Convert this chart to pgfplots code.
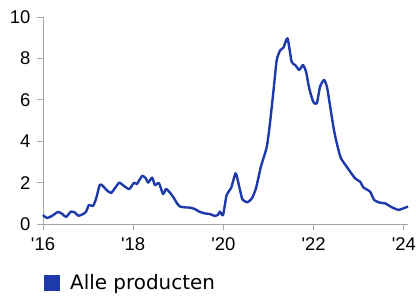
\documentclass[border=0pt]{standalone}
\usepackage{fontspec}
\setmainfont{Liberation Sans}
\newfontfamily\legfont{DejaVu Sans}
\usepackage{pgfplots}
\pgfplotsset{compat=1.18}
\definecolor{lineblue}{RGB}{30,58,170}
\definecolor{axgray}{RGB}{165,165,165}
\begin{document}
\begin{tikzpicture}
\useasboundingbox (-43bp,-72bp) rectangle (373bp,224bp);
\begin{axis}[
 at={(0,0)}, anchor=south west,
 scale only axis, width=365bp, height=207bp,
 xmin=16, xmax=24.09, ymin=0, ymax=10,
 axis lines=left, axis line style={-, draw=axgray, line width=0.9bp},
 xtick={16,18,20,22,24},
 xticklabels={\textquotesingle16,\textquotesingle18,\textquotesingle20,\textquotesingle22,\textquotesingle24},
 ytick={0,2,4,6,8,10},
 tick align=outside, major tick length=6bp,
 tick style={draw=axgray, line width=0.9bp},
 ticklabel style={font=\fontsize{18.5}{20}\selectfont, text=black},
 xticklabel style={yshift=-4bp},
 yticklabel style={xshift=-3bp},
 /pgf/number format/assume math mode=true,
 clip=false,
 legend style={at={(0,0)}, anchor=north west, xshift=1bp, yshift=-48bp, draw=none, fill=none, inner sep=0pt, font=\legfont\fontsize{20}{22}\selectfont},
 legend image code/.code={\fill[draw=none,fill=lineblue] (0bp,-8bp) rectangle (16bp,8bp); \path[draw=none,fill=none] (0bp,0bp) -- (24bp,0bp);},
]
\addplot[lineblue, line width=2.4bp, smooth, tension=0.35, line join=round] coordinates {
(16.00,0.43) (16.09,0.29) (16.20,0.39) (16.33,0.58) (16.42,0.50) (16.51,0.34)
(16.62,0.60) (16.71,0.55) (16.78,0.40) (16.86,0.45) (16.95,0.58) (17.02,0.92)
(17.11,0.87) (17.18,1.25) (17.26,1.90) (17.33,1.83) (17.42,1.62) (17.51,1.50)
(17.60,1.75) (17.69,2.00) (17.77,1.88) (17.91,1.69) (18.02,2.00) (18.08,1.93)
(18.20,2.33) (18.28,2.20) (18.33,2.00) (18.42,2.24) (18.48,1.88) (18.57,1.98)
(18.66,1.45) (18.73,1.69) (18.82,1.50) (18.90,1.26) (18.97,1.00) (19.04,0.84)
(19.17,0.80) (19.26,0.79) (19.37,0.72) (19.46,0.60) (19.59,0.51) (19.70,0.48)
(19.81,0.39) (19.88,0.45) (19.92,0.60) (19.99,0.43) (20.07,1.40) (20.17,1.74)
(20.27,2.45) (20.35,1.80) (20.42,1.19) (20.53,1.05) (20.63,1.24) (20.72,1.72)
(20.83,2.77) (20.96,3.73) (21.03,4.86) (21.11,6.47) (21.18,7.92) (21.26,8.40)
(21.33,8.52) (21.42,8.97) (21.51,7.84) (21.59,7.68) (21.68,7.44) (21.76,7.68)
(21.83,7.36) (21.90,6.56) (21.99,5.90) (22.07,5.83) (22.14,6.63) (22.23,6.96)
(22.30,6.56) (22.40,5.18) (22.47,4.30) (22.59,3.25) (22.73,2.77) (22.92,2.20)
(23.03,2.04) (23.10,1.77) (23.25,1.56) (23.34,1.16) (23.47,1.03) (23.58,1.00)
(23.73,0.81) (23.88,0.68) (23.99,0.76) (24.09,0.84)
};
\addlegendentry{Alle producten}
\end{axis}
\end{tikzpicture}
\end{document}
